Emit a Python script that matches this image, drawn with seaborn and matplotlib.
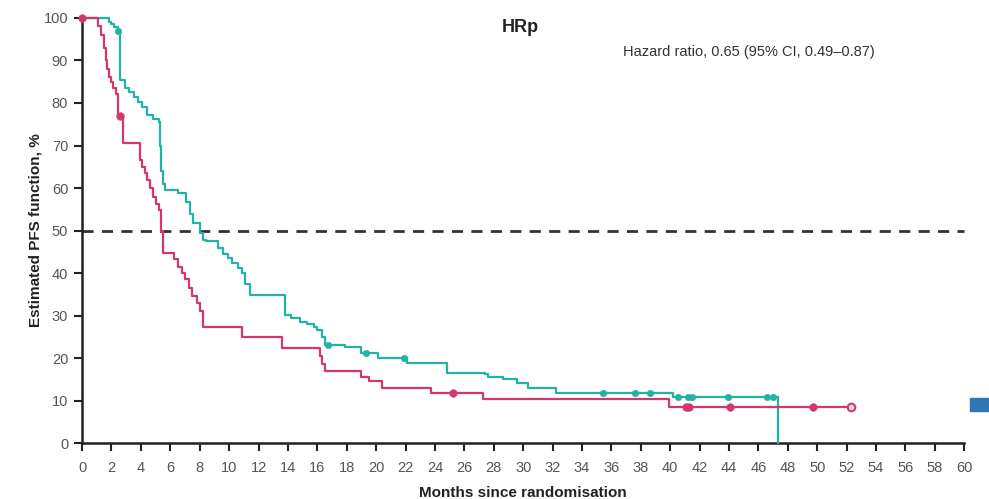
import numpy as np
import pandas as pd
import matplotlib
matplotlib.use('Agg')
import matplotlib.pyplot as plt
import seaborn as sns

# Kaplan-Meier step points (months, % PFS)
teal_t = [0, 1.8, 2.0, 2.2, 2.45, 2.6, 2.9, 3.2, 3.5, 3.8, 4.1, 4.4, 4.8, 5.2, 5.3, 5.4,
          5.5, 5.65, 6.5, 7.1, 7.35, 7.55, 8.0, 8.25, 8.4, 9.25, 9.6, 9.9, 10.2, 10.6,
          10.9, 11.1, 11.4, 13.8, 14.2, 14.8, 15.3, 15.8, 16.0, 16.3, 16.5, 17.9, 19.0,
          20.1, 22.1, 24.8, 27.4, 27.6, 28.6, 29.6, 30.3, 32.2, 40.2, 47.3]
teal_s = [100, 99, 98.5, 97.8, 97, 85.4, 83.5, 82.5, 81.5, 80.2, 79, 77.2, 76.2, 75.5, 70, 64,
          61, 59.5, 58.8, 56.7, 54, 51.8, 49.5, 47.8, 47.5, 46, 44.5, 43.5, 42.3, 41.2,
          40, 37.5, 34.8, 30.1, 29.4, 28.5, 27.9, 27.2, 26.6, 25, 23, 22.6, 21.2,
          20, 18.8, 16.5, 16.2, 15.5, 15.1, 14.2, 12.9, 11.7, 10.8, 0]
teal_cens = [2.45, 16.7, 19.3, 21.9, 35.4, 37.6, 38.6, 40.5, 41.2, 41.5, 43.9, 46.6, 47.0]

red_t = [0, 1.1, 1.3, 1.5, 1.6, 1.7, 1.8, 1.95, 2.1, 2.3, 2.45, 2.8, 3.95, 4.1, 4.3, 4.4,
         4.6, 4.85, 5.05, 5.25, 5.35, 5.5, 6.25, 6.5, 6.8, 7.0, 7.3, 7.5, 7.8, 8.0, 8.2,
         10.9, 13.6, 16.2, 16.35, 16.5, 19.0, 19.5, 20.4, 23.7, 27.3, 39.9, 52.3]
red_s = [100, 98, 96, 93, 90, 88, 86, 85, 83.5, 82, 77, 70.6, 66.6, 65, 63.5, 61.9,
         60, 57.9, 56.2, 54.8, 50, 44.7, 43.3, 41.4, 40, 38.5, 36.5, 34.5, 33, 31, 27.3,
         25, 22.4, 20.5, 18.5, 17, 15.6, 14.6, 12.9, 11.8, 10.3, 8.5, 8.5]
red_cens = [0, 2.6, 25.2, 41.1, 41.3, 44.1, 49.7]
red_last = [52.3]

x_ticks = list(range(0, 62, 2))
y_ticks = list(range(0, 110, 10))

teal = '#22b3a3'
red = '#d2386e'


def at(times, surv, when):
    # value of the step curve at each censoring time
    idx = np.searchsorted(times, when, side='right') - 1
    return np.asarray(surv)[idx]


sns.set_theme(style='white')
plt.rcParams['font.family'] = ['Liberation Sans', 'DejaVu Sans']

fig = plt.figure(figsize=(9.89, 4.99), dpi=100)
ax = fig.add_axes([0.083, 0.112, 0.892, 0.852])

ax.axhline(50, color='#333333', lw=2, ls=(0, (4, 3)), zorder=1)

sns.lineplot(x=teal_t, y=teal_s, drawstyle='steps-post', color=teal, lw=1.6,
             sort=False, ax=ax, zorder=3)
sns.lineplot(x=red_t, y=red_s, drawstyle='steps-post', color=red, lw=1.6,
             sort=False, ax=ax, zorder=3)

sns.scatterplot(x=teal_cens, y=at(teal_t, teal_s, teal_cens), color=teal, s=22,
                edgecolor=teal, ax=ax, zorder=4)
sns.scatterplot(x=red_cens, y=at(red_t, red_s, red_cens), color=red, s=30,
                edgecolor=red, ax=ax, zorder=4)
sns.scatterplot(x=red_last, y=at(red_t, red_s, red_last), color='#f4dbe4', s=30,
                edgecolor=red, linewidth=1.5, ax=ax, zorder=4)

ax.set_xlim(0, 60)
ax.set_ylim(0, 100)
ax.set_xticks(x_ticks)
ax.set_yticks(y_ticks)
ax.tick_params(axis='both', direction='out', length=6, width=1.5, color='#222222',
               labelsize=10.5, labelcolor='#555555', bottom=True, left=True)
ax.tick_params(axis='x', pad=7)
ax.tick_params(axis='y', pad=4)
for side in ['top', 'right']:
    ax.spines[side].set_visible(False)
for side in ['left', 'bottom']:
    ax.spines[side].set_color('#222222')
    ax.spines[side].set_linewidth(1.8)
    ax.spines[side].set_zorder(2)
for art in ax.lines + ax.collections:
    art.set_clip_on(False)

ax.set_xlabel('Months since randomisation', fontsize=11, fontweight='bold',
              color='#222222', labelpad=8)
ax.set_ylabel('Estimated PFS function, %', fontsize=11, fontweight='bold',
              color='#222222', labelpad=1)

fig.text(0.526, 0.944, 'HRp', ha='center', va='center', fontsize=13,
         fontweight='bold', color='#222222')
fig.text(0.757, 0.896, 'Hazard ratio, 0.65 (95% CI, 0.49\u20130.87)', ha='center',
         va='center', fontsize=10.5, color='#333333')

# blue slide marker at the right edge
fig.patches.append(plt.Rectangle((0.981, 0.176), 0.019, 0.026, transform=fig.transFigure,
                                 color='#2e75b6', figure=fig))

fig.savefig('out.png', dpi=100)
